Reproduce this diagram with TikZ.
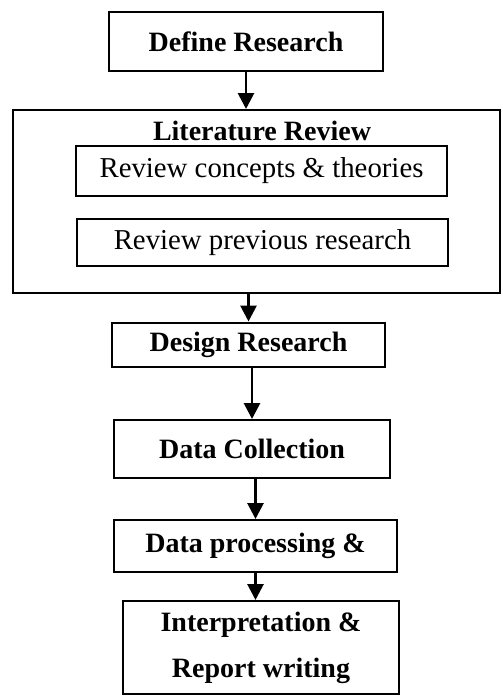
\documentclass[tikz,border=0pt]{standalone}
\usepackage{fontspec}
\setmainfont{Liberation Serif}
\usetikzlibrary{arrows.meta}
\tikzset{
  box/.style={draw, line width=2pt, inner sep=0pt, align=center},
  boldtxt/.style={font=\fontsize{28}{46}\selectfont\bfseries},
  plaintxt/.style={font=\fontsize{28.8}{34}\selectfont},
  arr/.style={line width=2.8pt, -{Triangle[length=16pt,width=16pt]}}
}
\begin{document}
\begin{tikzpicture}[x=1pt,y=-1pt]
\useasboundingbox (0,0) rectangle (503,696);
\node[box,boldtxt,minimum width=274pt,minimum height=59pt] (define) at (246,41.5) {Define Research};
\node[box,minimum width=487pt,minimum height=183pt] (lit) at (256.5,201.5) {};
\node[boldtxt,inner sep=0pt] (littitle) at (262,131) {Literature Review};
\node[box,plaintxt,minimum width=371pt,minimum height=50pt] (concepts) at (261.5,171) {Review concepts \& theories};
\node[box,plaintxt,minimum width=371pt,minimum height=47pt] (previous) at (262.5,242.5) {Review previous research};
\node[box,boldtxt,minimum width=273pt,minimum height=44pt] (design) at (248.5,344.5) {Design Research};
\node[box,boldtxt,minimum width=276pt,minimum height=58pt] (collect) at (252,449) {Data Collection};
\node[box,boldtxt,minimum width=283pt,minimum height=52pt] (proc) at (255.5,546) {Data processing \&};
\node[box,boldtxt,minimum width=276pt,minimum height=93pt] (interp) at (261,647.5) {Interpretation \&\\Report writing};
\draw[arr] (define.south) -- (define.south |- lit.north);
\draw[arr] (design.north |- lit.south) -- (design.north);
\draw[arr] (collect.north |- design.south) -- (collect.north);
\draw[arr] (proc.north |- collect.south) -- (proc.north);
\draw[arr] (proc.south) -- (proc.south |- interp.north);
\end{tikzpicture}
\end{document}
